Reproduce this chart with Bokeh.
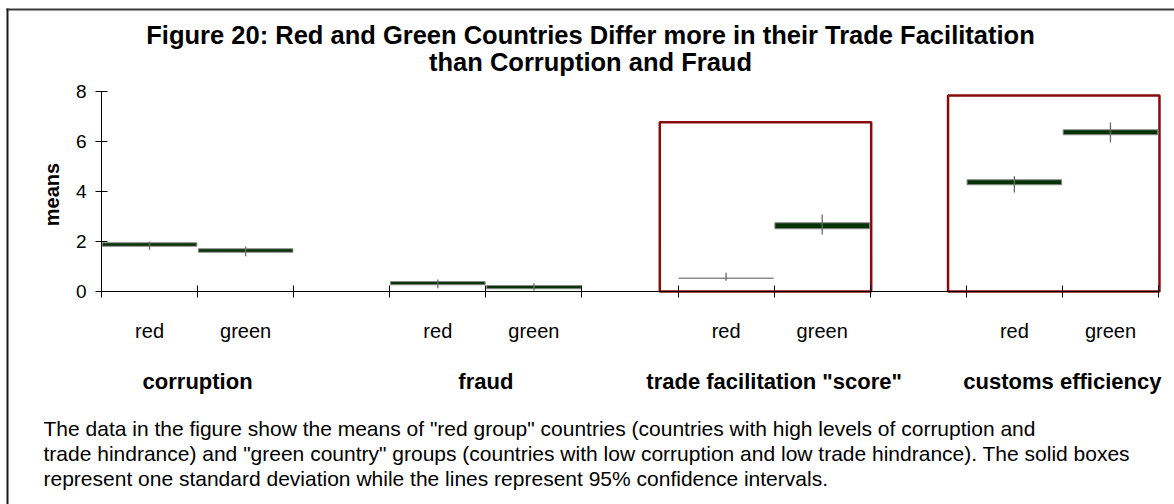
import math
from bokeh.plotting import figure
from bokeh.models import Range1d, LinearAxis, FixedTicker, ColumnDataSource
from bokeh.core.properties import value
from bokeh.embed import file_html
from bokeh.resources import INLINE

# ---------------- data ----------------
measures = ["corruption", "fraud", "trade facilitation \"score\"", "customs efficiency"]
groups = ["red", "green"]

# solid boxes (one standard deviation band as drawn)
red_box_lo = [1.81, 0.27, 0.52, 4.27]
red_box_hi = [1.95, 0.40, 0.54, 4.47]
green_box_lo = [1.57, 0.11, 2.51, 6.27]
green_box_hi = [1.71, 0.24, 2.75, 6.47]

# lines (95% confidence intervals)
red_ci_lo = [1.67, 0.13, 0.43, 3.96]
red_ci_hi = [2.00, 0.48, 0.75, 4.61]
green_ci_lo = [1.41, 0.04, 2.28, 5.96]
green_ci_hi = [1.80, 0.33, 3.08, 6.76]

y_ticks = [0, 2, 4, 6, 8]

highlighted = ["trade facilitation \"score\"", "customs efficiency"]
highlight_top = [6.77, 7.84]

title_lines = ["Figure 20: Red and Green Countries Differ more in their Trade Facilitation",
               "than Corruption and Fraud"]
y_label = "means"
note_lines = [
    "The data in the figure show the means of \"red group\" countries (countries with high levels of corruption and",
    "trade hindrance) and \"green country\" groups (countries with low corruption and low trade hindrance). The solid boxes",
    "represent one standard deviation while the lines represent 95% confidence intervals.",
]

# ---------------- layout ----------------
W, H = 1174, 504
AX_LEFT, AX_RIGHT = 101, 1158  # canvas px of slot 0 and slot 11
AX_ZERO, AX_TOP = 291, 91      # canvas px of y=0 and y=8
n_slots = 3 * len(measures) - 1
PX_X = (AX_RIGHT - AX_LEFT) / n_slots
PX_Y = (AX_ZERO - AX_TOP) / 8.0


def X(px):
    return (px - AX_LEFT) / PX_X


def Y(py):
    return (AX_ZERO - py) / PX_Y


x_range = Range1d(X(0), X(W))
y_range = Range1d(Y(H), Y(0))

FONT = value("Liberation Sans")

p = figure(width=W, height=H, x_range=x_range, y_range=y_range,
           output_backend="svg", toolbar_location=None, tools="",
           x_axis_type=None, y_axis_type=None, title=None, min_border=0)
p.outline_line_color = None
p.background_fill_color = "white"
p.border_fill_color = "white"

# ---- slots ----
rows = dict(left=[], right=[], lo=[], hi=[], cx=[], clo=[], chi=[])
for m in range(len(measures)):
    for g, (blo, bhi, clo, chi) in enumerate([
            (red_box_lo, red_box_hi, red_ci_lo, red_ci_hi),
            (green_box_lo, green_box_hi, green_ci_lo, green_ci_hi)]):
        s = 3 * m + g
        rows["left"].append(s + 0.008)
        rows["right"].append(s + 0.992)
        rows["lo"].append(blo[m])
        rows["hi"].append(bhi[m])
        rows["cx"].append(s + 0.5)
        rows["clo"].append(clo[m])
        rows["chi"].append(chi[m])
src = ColumnDataSource(rows)

# highlight frames
hl = dict(left=[], right=[], top=[])
for name, top in zip(highlighted, highlight_top):
    m = measures.index(name)
    hl["left"].append(3 * m - 0.19)
    hl["right"].append(3 * m + 2.01)
    hl["top"].append(top)
p.quad(left="left", right="right", bottom=0, top="top", source=ColumnDataSource(hl),
       fill_color=None, line_color="#8b0a0a", line_width=2.5)

p.quad(left="left", right="right", bottom="lo", top="hi", source=src,
       fill_color="#063306", line_color="#8a8a8a", line_width=1)
p.segment(x0="cx", y0="clo", x1="cx", y1="chi", source=src,
          line_color="#6a6a6a", line_width=1.3)

# ---- axes ----
yaxis = LinearAxis(fixed_location=0, bounds=(0, 8), ticker=FixedTicker(ticks=y_ticks))
yaxis.major_tick_in = 6
yaxis.major_tick_out = 6
yaxis.minor_tick_line_color = None
yaxis.major_label_standoff = 9
yaxis.major_label_text_font = "Liberation Sans"
yaxis.major_label_text_font_size = "19px"
yaxis.major_label_text_color = "black"
yaxis.axis_line_color = "black"
yaxis.major_tick_line_color = "black"
p.add_layout(yaxis, "left")

xaxis = LinearAxis(fixed_location=0, bounds=(0, n_slots),
                   ticker=FixedTicker(ticks=list(range(n_slots + 1))))
xaxis.major_tick_in = 6
xaxis.major_tick_out = 6
xaxis.minor_tick_line_color = None
xaxis.major_label_overrides = {i: "" for i in range(n_slots + 1)}
xaxis.axis_line_color = "black"
xaxis.major_tick_line_color = "black"
p.add_layout(xaxis, "below")

# ---- category labels ----
cat_x, cat_t = [], []
grp_x = []
for m in range(len(measures)):
    for g, name in enumerate(groups):
        cat_x.append(3 * m + g + 0.5)
        cat_t.append(name)
    grp_x.append(3 * m + 1)
p.text(x=cat_x, y=[Y(330)] * len(cat_x), text=cat_t, text_font=FONT,
       text_font_size="20px", text_align="center", text_baseline="alphabetic",
       text_color="black")
p.text(x=grp_x, y=[Y(381)] * len(grp_x), text=measures, text_font=FONT,
       text_font_size="22px", text_font_style="bold", text_align="center",
       text_baseline="alphabetic", text_color="black")

# ---- y axis label ----
p.text(x=[X(51)], y=[Y(194)], text=[y_label], angle=math.pi / 2, text_font=FONT,
       text_font_size="20px", text_font_style="bold", text_align="center",
       text_baseline="middle", text_color="black")

# ---- title ----
p.text(x=[X(590), X(590)], y=[Y(34), Y(61)], text=title_lines, text_font=FONT,
       text_font_size="25.5px", text_font_style="bold", text_align="center",
       text_baseline="alphabetic", text_color="black")

# ---- note ----
p.text(x=[X(43)] * 3, y=[Y(428), Y(453), Y(478)], text=note_lines, text_font=FONT,
       text_font_size="21px", text_align="left", text_baseline="alphabetic",
       text_color="black")

# ---- chart border (top and left edges of the chart area) ----
p.segment(x0=[X(6)], y0=[Y(9)], x1=[X(W)], y1=[Y(9)],
          line_color="#3a3a3a", line_width=2)
p.segment(x0=[X(7)], y0=[Y(8)], x1=[X(7)], y1=[Y(H)],
          line_color="#1a1a1a", line_width=2)

open("out.html", "w").write(file_html(p, INLINE))
